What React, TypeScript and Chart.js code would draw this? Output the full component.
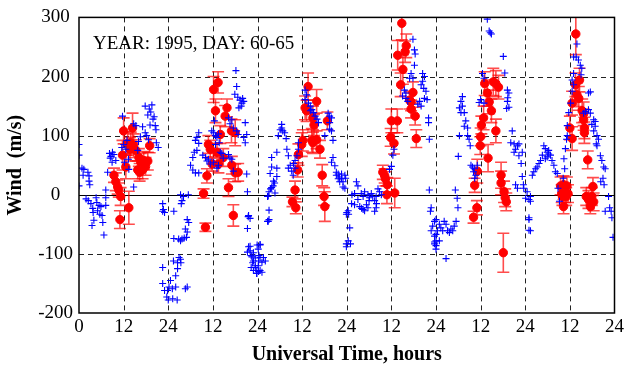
import React, { useEffect, useRef } from 'react';
import { Chart, registerables } from 'chart.js';

Chart.register(...registerables);

// ---- data (hour since start of day 60, wind m/s) ----
const annotationText = 'YEAR: 1995, DAY: 60-65';
const xTickLabels = ['0', '12', '24', '12', '24', '12', '24', '12', '24', '12', '24', '12', '24'];
const xTitle = 'Universal Time, hours';
const yTitle = 'Wind  (m/s)';

const blueDay1: [number, number][] = [
  [0.0, 85], [0.0, 67], [0.0, 15], [0.8, 45], [1.3, 43], [1.1, 33], [2.4, 38], [2.7, 32], [2.7, 23], [2.9, 17],
  [1.9, -7], [3.2, -15], [4.6, -5], [4.8, -13], [5.4, -18], [3.7, -23], [5.9, -20], [7.2, -5], [7.2, -18], [4.0, -43],
  [3.5, -52], [5.6, -33], [6.4, -47], [6.7, -68], [2.5, -10], [3.8, -30], [5.0, -27], [6.2, -35],
  [7.7, 38], [7.2, 8], [8.2, 70], [8.6, 65], [9.0, 72], [9.4, 68], [9.9, 58], [8.4, 62], [8.9, 55],
  [11.7, 133], [12.0, 85], [12.6, 77], [11.5, 80], [12.9, 92], [13.3, 60], [13.4, 43], [12.2, 55],
  [14.7, 120], [15.3, 117], [17.1, 115], [17.8, 105], [18.2, 100], [18.7, 93], [16.5, 98],
  [17.8, 150], [18.9, 145], [19.3, 140], [19.6, 152], [18.5, 135], [19.9, 128], [19.1, 118], [20.2, 132],
  [20.5, 117], [20.7, 110], [20.8, 88], [21.3, 80], [14.7, 13], [22.5, -15], [22.5, -28], [16.0, 90], [15.8, 75],
];

const blueDay2: [number, number][] = [
  [22.5, -123], [22.5, -150], [23.0, -162], [23.6, -173], [23.8, -162], [24.2, -156], [24.6, -145], [25.1, -159],
  [26.0, -156], [29.1, -156], [28.6, -159], [26.4, -178], [24.0, -178], [25.2, -176],
  [26.9, -106], [27.3, -109], [26.5, -115], [26.5, -125], [26.0, -137], [25.4, -112], [27.4, -115],
  [29.1, -42], [29.5, -47], [28.6, -58], [29.1, -63], [28.9, -72], [28.3, -73], [27.7, -75], [27.3, -78], [26.8, -75], [25.5, -74],
  [27.3, 0], [28.1, -3], [29.4, 0], [27.7, -10], [27.5, -15], [25.5, -28], [22.7, -25], [23.0, -30],
  [32.2, 105], [31.7, 97], [31.3, 92], [32.2, 87], [31.7, 75], [31.0, 72], [33.3, 67], [30.6, 63], [30.0, 50], [30.6, 42], [31.3, 37], [32.2, 37],
  [34.0, 63], [34.4, 57], [34.8, 60], [35.3, 52], [36.2, 55], [37.1, 45], [37.5, 50], [38.0, 72], [38.4, 70], [38.8, 62],
  [40.2, 68], [40.6, 62], [41.1, 60], [41.5, 40],
  [36.4, 125], [35.7, 108], [36.2, 105], [36.7, 100], [37.1, 97], [37.5, 103], [37.7, 88], [36.7, 85],
  [40.2, 130], [41.1, 127], [41.5, 113], [40.6, 120], [42.4, 108], [42.8, 102],
  [42.2, 210], [42.4, 183], [41.9, 170], [42.7, 165], [43.3, 160], [43.8, 155], [44.3, 158], [43.6, 150], [43.0, 147], [44.0, 163],
  [44.7, 122], [45.1, 102], [44.7, 88], [44.3, 97], [45.1, 35], [45.5, -37], [46.0, -40],
  [46.0, -87], [46.9, -98], [47.4, -107], [46.7, -115], [47.4, -123], [47.8, -128], [48.3, -130], [47.8, -133], [48.7, -85],
  [45.3, 5], [45.6, -35], [45.3, -57], [45.6, -88], [46.0, -95], [45.3, -97], [46.3, -103], [46.5, -105], [46.9, -112],
  [46.3, -123], [46.9, -128], [47.4, -120], [48.3, -112], [47.9, -85], [48.4, -103],
];

const blueDay3: [number, number][] = [
  [50.7, -3], [51.1, 5], [51.5, 10], [52.2, 15], [52.6, 20], [51.1, -42], [50.7, -45],
  [54.5, 119], [54.1, 110], [54.8, 108], [55.3, 105], [53.6, 100], [55.7, 95], [54.5, 113],
  [55.9, 77], [56.3, 66], [56.8, 50], [56.3, 45], [57.2, 40], [57.6, 33],
  [53.2, 72], [51.8, 63], [51.8, 47], [51.4, 36], [53.2, 45], [53.2, 31], [52.3, 23], [51.8, 12], [52.7, 3], [50.9, -2],
  [51.1, -26], [50.9, -45],
  [48.7, -84], [48.2, -92], [48.7, -106], [49.6, -106], [50.1, -112], [49.2, -114], [48.2, -120], [48.7, -128], [49.2, -131], [47.8, -133],
  [59.0, 88], [59.0, 77], [58.6, 66], [58.1, 58], [57.7, 53], [58.1, 45],
  [60.8, 177], [61.2, 169], [60.8, 161], [61.7, 155], [62.2, 150], [62.6, 144], [63.1, 139], [62.2, 142],
  [63.5, 133], [64.0, 128], [64.4, 122],
  [67.0, 138], [67.4, 133], [67.9, 130], [67.4, 122], [67.9, 108], [68.3, 92], [67.4, 111], [66.1, 100],
  [68.8, 49], [69.2, 38], [69.7, 35], [70.1, 30], [70.6, 27], [71.0, 22], [71.0, 13], [71.5, 11], [69.7, 27], [69.2, 33],
  [70.1, 22], [70.6, 35], [67.9, 55], [68.3, 63], [71.9, -33], [71.9, -83],
];

const blueDay4: [number, number][] = [
  [71.5, 33], [71.7, 28], [74.6, 22], [75.0, 15], [74.1, 2], [75.9, 2], [76.4, -3], [76.8, 5], [77.7, 0], [78.1, -5],
  [78.6, 2], [79.0, -3], [79.5, -10], [79.9, -3], [80.4, 10], [80.8, 5], [81.3, 0], [73.3, -15], [74.1, -17], [75.5, -20],
  [76.4, -25], [77.3, -17], [77.7, -22], [79.9, -22], [79.5, -28], [76.8, -27], [72.4, -27], [72.0, -30], [72.8, -56],
  [72.4, -78], [73.0, -83], [71.9, -88], [73.4, 0], [76.0, -23], [72.5, -33], [78.0, -10], [75.0, -8], [80.0, -15],
  [89.8, 263], [90.2, 245], [90.4, 238], [90.2, 219], [89.3, 205], [88.9, 197], [89.8, 197], [87.5, 177], [87.9, 172],
  [87.0, 167], [87.9, 163], [88.4, 158],
  [92.4, 205], [92.9, 200], [92.4, 192], [92.0, 186], [92.7, 180], [93.3, 175], [92.9, 163], [93.6, 161], [91.6, 158],
  [91.1, 153], [92.0, 150], [94.0, 130], [94.0, 122], [94.2, 94],
  [84.7, 77], [84.4, 67], [84.0, 48], [83.5, 43],
  [94.2, 8], [94.7, -22], [94.5, -28], [95.1, -53], [94.7, -61], [95.6, -70], [96.0, -78], [95.6, -80], [96.0, -86],
];

const blueDay5: [number, number][] = [
  [109.8, 297], [110.3, 277], [110.9, 272], [110.6, 274], [114.1, 234], [114.5, 206], [108.5, 205], [108.9, 197],
  [115.2, 177], [115.6, 172], [115.3, 164], [115.2, 158], [115.6, 148], [115.0, 146], [116.5, 108],
  [108.0, 161], [107.6, 156], [108.9, 155],
  [103.1, 166], [102.7, 158], [103.1, 150], [102.3, 147], [103.6, 139], [102.7, 139], [104.0, 125], [104.5, 113], [103.6, 116],
  [102.3, 100], [104.5, 100], [104.9, 94], [105.2, 83], [102.0, 65],
  [105.4, 50], [105.8, 47], [106.3, 44], [106.1, 39], [106.7, 33], [107.1, 50], [106.4, 28],
  [116.1, 88], [117.0, 86], [117.9, 83], [117.4, 77], [118.3, 86], [117.0, 72], [118.3, 66], [119.2, 72], [118.9, 53],
  [119.2, 31], [119.5, 17], [117.4, 17], [117.9, 11],
  [95.6, -45], [96.0, -42], [96.9, -50], [97.3, -56], [96.4, -61], [96.0, -67], [98.2, -45], [98.7, -50], [97.8, -61],
  [99.1, -61], [99.6, -64], [100.0, -58], [100.5, -61], [100.9, -53], [101.4, -45], [95.6, -83], [96.0, -92], [98.7, -108], [96.9, -78],
  [101.2, 8], [101.7, -6], [101.9, -22], [121.0, -39], [121.4, -61],
];

const blueDay6: [number, number][] = [
  [133.9, 255], [133.0, 233], [133.7, 233], [134.3, 228], [134.8, 219], [135.2, 214], [135.0, 203],
  [133.0, 205], [132.6, 194], [133.0, 186], [132.6, 175], [132.2, 155], [131.7, 139], [131.3, 117], [131.3, 100],
  [137.5, 174], [137.0, 172],
  [135.7, 138], [136.2, 141], [137.0, 144], [137.5, 138], [138.4, 127], [138.8, 124], [137.9, 119], [138.8, 116],
  [139.3, 100], [139.7, 94], [139.1, 86], [139.3, 83], [138.4, 108],
  [140.2, 66], [140.6, 58], [141.1, 47], [141.5, 44], [140.9, 28], [141.2, 17], [140.3, 22],
  [142.4, -3], [142.7, -22], [143.1, -28], [143.3, -39], [141.5, -28], [143.6, -72],
  [125.0, 83], [125.4, 78], [125.9, 72], [126.3, 69], [126.8, 67], [125.9, 64], [124.6, 67], [124.1, 58], [123.7, 53],
  [123.2, 47], [122.8, 44], [122.3, 39], [121.9, 33], [127.2, 58], [127.7, 50], [128.1, 39], [128.6, 36], [125.4, 61], [126.3, 75],
  [119.6, 11], [120.5, 5], [121.4, -3], [120.1, -6], [121.0, -8], [121.4, -11], [121.0, -42], [121.0, -60],
  [130.4, 61], [130.8, 78], [130.6, 44], [130.2, 28], [131.1, 94], [129.2, -11], [128.8, 11],
];

// red: [hour, wind, error]
const redDay1: [number, number, number][] = [
  [12.0, 108, 22], [14.4, 113, 25], [13.1, 87, 20], [13.7, 77, 20], [13.9, 88, 18], [11.7, 67, 25], [14.7, 83, 20],
  [15.3, 75, 18], [16.1, 63, 15], [16.6, 55, 15], [17.4, 58, 15], [18.5, 57, 15], [17.9, 48, 15], [17.1, 42, 15],
  [16.3, 38, 15], [15.8, 42, 15], [19.0, 83, 12], [12.6, 47, 20], [9.4, 33, 12], [9.9, 22, 15], [10.4, 13, 12],
  [10.7, 8, 12], [11.2, -3, 15], [13.4, -22, 28], [11.0, -42, 15],
];
const redDay2: [number, number, number][] = [
  [37.4, 190, 18], [36.2, 178, 22], [36.7, 142, 20], [39.3, 133, 18], [39.8, 147, 15], [38.0, 102, 15], [41.0, 108, 20],
  [42.0, 105, 22], [34.8, 85, 15], [35.3, 77, 15], [37.1, 72, 15], [38.8, 63, 15], [35.8, 52, 12], [37.5, 52, 15],
  [41.1, 50, 15], [42.0, 37, 15], [42.8, 38, 15], [34.4, 32, 12], [40.2, 12, 15], [33.5, 2, 8], [41.5, -35, 18], [34.0, -55, 7],
];
const redDay3: [number, number, number][] = [
  [61.6, 183, 23], [60.8, 147, 20], [61.2, 142, 18], [63.9, 158, 20], [62.9, 130, 20], [63.2, 118, 18], [66.8, 125, 15],
  [60.2, 92, 18], [59.9, 85, 20], [62.6, 92, 20], [62.9, 88, 18], [63.9, 93, 15], [64.8, 77, 15], [59.0, 68, 18],
  [58.8, 42, 12], [65.4, 33, 18], [58.1, 8, 15], [57.4, -12, 8], [58.3, -22, 10], [65.9, -3, 15], [66.1, -20, 25],
];
const redDay4: [number, number, number][] = [
  [86.8, 290, 28], [88.0, 252, 20], [87.7, 242, 18], [85.7, 236, 25], [87.1, 212, 25], [86.5, 186, 20], [89.8, 173, 18],
  [88.9, 160, 15], [89.3, 157, 15], [89.3, 145, 15], [90.4, 133, 15], [84.0, 125, 20], [85.6, 125, 20], [83.8, 97, 15],
  [84.7, 87, 18], [90.7, 95, 15], [81.7, 38, 12], [82.2, 32, 12], [82.4, 27, 12], [82.9, 17, 12], [82.8, 0, 15], [84.9, 3, 25],
];
const redDay5: [number, number, number][] = [
  [109.1, 188, 20], [111.4, 191, 23], [112.1, 188, 22], [112.8, 182, 20], [109.8, 172, 22], [110.3, 157, 20],
  [110.9, 142, 20], [108.8, 130, 20], [108.2, 118, 15], [112.1, 108, 20], [108.0, 98, 15], [107.9, 83, 15],
  [110.0, 62, 23], [107.1, 40, 20], [106.4, 16, 12], [113.5, 33, 22], [113.5, 20, 20], [114.3, 5, 18], [114.6, -5, 15],
  [114.9, -12, 15], [107.0, -22, 12], [106.1, -38, 10], [114.1, -98, 33],
];
const redDay6: [number, number, number][] = [
  [133.6, 272, 35], [134.6, 194, 20], [133.5, 186, 20], [133.9, 169, 20], [134.4, 163, 20], [132.6, 155, 20],
  [135.3, 142, 20], [135.7, 137, 20], [135.7, 127, 18], [132.0, 113, 20], [135.9, 113, 18], [135.9, 105, 18],
  [132.6, 95, 20], [136.8, 59, 15], [138.2, 14, 15], [129.5, 15, 15], [130.3, 17, 15], [131.2, 15, 15], [129.8, 2, 15],
  [130.7, 2, 15], [131.5, 2, 15], [130.0, -3, 15], [131.0, -3, 15], [130.3, -20, 12], [136.4, -3, 15], [137.0, -8, 15],
  [137.9, -3, 15], [138.4, -12, 15], [137.5, -20, 12],
];

const blueAll = [...blueDay1, ...blueDay2, ...blueDay3, ...blueDay4, ...blueDay5, ...blueDay6];
const redAll = [...redDay1, ...redDay2, ...redDay3, ...redDay4, ...redDay5, ...redDay6];

const SERIF = '"Liberation Serif", "Times New Roman", serif';

export default function App() {
  const ref = useRef<HTMLCanvasElement | null>(null);

  useEffect(() => {
    document.body.style.margin = '0';
    const canvas = ref.current;
    if (!canvas) return;

    const framePlugin = {
      id: 'frame',
      beforeDatasetsDraw(chart: any) {
        const { ctx, chartArea: a, scales } = chart;
        const xs = scales.x;
        const ys = scales.y;
        ctx.save();
        ctx.strokeStyle = '#222';
        ctx.lineWidth = 1;
        ctx.setLineDash([5, 4]);
        xs.ticks.forEach((t: any) => {
          if (t.value <= xs.min || t.value >= xs.max) return;
          const x = Math.round(xs.getPixelForValue(t.value)) + 0.5;
          ctx.beginPath();
          ctx.moveTo(x, a.top);
          ctx.lineTo(x, a.bottom);
          ctx.stroke();
        });
        ys.ticks.forEach((t: any) => {
          if (t.value <= ys.min || t.value >= ys.max || t.value === 0) return;
          const y = Math.round(ys.getPixelForValue(t.value)) + 0.5;
          ctx.beginPath();
          ctx.moveTo(a.left, y);
          ctx.lineTo(a.right, y);
          ctx.stroke();
        });
        ctx.setLineDash([]);
        ctx.strokeStyle = '#000';
        const y0 = Math.round(ys.getPixelForValue(0)) + 0.5;
        ctx.beginPath();
        ctx.moveTo(a.left, y0);
        ctx.lineTo(a.right, y0);
        ctx.stroke();
        ctx.restore();
      },
      beforeDatasetDraw(chart: any, args: any) {
        if (args.index !== 1) return;
        const { ctx, chartArea: a, scales } = chart;
        const xs = scales.x;
        const ys = scales.y;
        ctx.save();
        ctx.beginPath();
        ctx.rect(a.left, a.top, a.right - a.left, a.bottom - a.top);
        ctx.clip();
        ctx.strokeStyle = 'rgba(255,0,0,0.7)';
        ctx.lineWidth = 1.6;
        redAll.forEach(([h, v, e]) => {
          const x = xs.getPixelForValue(h);
          const yt = ys.getPixelForValue(v + e);
          const yb = ys.getPixelForValue(v - e);
          ctx.beginPath();
          ctx.moveTo(x, yt);
          ctx.lineTo(x, yb);
          ctx.moveTo(x - 6, yt);
          ctx.lineTo(x + 6, yt);
          ctx.moveTo(x - 6, yb);
          ctx.lineTo(x + 6, yb);
          ctx.stroke();
        });
        ctx.restore();
      },
      afterDraw(chart: any) {
        const { ctx, chartArea: a } = chart;
        ctx.save();
        ctx.strokeStyle = '#000';
        ctx.lineWidth = 1.5;
        ctx.strokeRect(a.left, a.top, a.right - a.left, a.bottom - a.top);
        ctx.fillStyle = '#000';
        ctx.font = `19px ${SERIF}`;
        ctx.textBaseline = 'alphabetic';
        ctx.textAlign = 'left';
        ctx.fillText(annotationText, a.left + 14, a.top + 32);
        ctx.restore();
      },
    };

    const chart = new Chart(canvas, {
      type: 'scatter',
      data: {
        datasets: [
          {
            label: 'blue',
            data: blueAll.map(([x, y]) => ({ x, y })),
            pointStyle: 'cross',
            pointRadius: 3.5,
            pointBorderColor: '#0000ff',
            borderColor: '#0000ff',
            pointBorderWidth: 1.1,
            backgroundColor: '#0000ff',
          },
          {
            label: 'red',
            data: redAll.map(([x, y]) => ({ x, y })),
            pointStyle: 'circle',
            pointRadius: 4.2,
            pointBackgroundColor: '#ff0000',
            pointBorderColor: '#ff0000',
            pointBorderWidth: 1,
          },
        ],
      } as any,
      options: {
        responsive: false,
        animation: false,
        devicePixelRatio: 1,
        layout: { padding: { top: 13, right: 11, bottom: 0, left: 0 } },
        plugins: {
          legend: { display: false },
          tooltip: { enabled: false },
        },
        scales: {
          x: {
            type: 'linear',
            min: 0,
            max: 144,
            grid: { display: false, drawTicks: false },
            border: { display: false },
            ticks: {
              stepSize: 12,
              autoSkip: false,
              maxRotation: 0,
              padding: 3,
              color: '#000',
              font: { family: SERIF, size: 19 },
              callback: (_v: any, i: number) => xTickLabels[i],
            },
            title: {
              display: true,
              text: xTitle,
              color: '#000',
              font: { family: SERIF, size: 20, weight: 'bold' },
              padding: { top: 0, bottom: 2 },
            },
            afterFit: (s: any) => {
              s.height = 56;
            },
          },
          y: {
            type: 'linear',
            min: -200,
            max: 300,
            grid: { display: false, drawTicks: false },
            border: { display: false },
            ticks: {
              stepSize: 100,
              padding: 6,
              crossAlign: 'center',
              color: '#000',
              font: { family: SERIF, size: 19 },
              callback: (v: any) => String(v),
            },
            title: {
              display: true,
              text: yTitle,
              color: '#000',
              font: { family: SERIF, size: 20, weight: 'bold' },
              padding: { top: 4, bottom: 0 },
            },
            afterFit: (s: any) => {
              s.width = 79;
            },
          },
        },
      } as any,
      plugins: [framePlugin],
    });

    return () => chart.destroy();
  }, []);

  return (
    <div style={{ width: 627, height: 369, background: '#fff' }}>
      <canvas ref={ref} width={627} height={369} style={{ display: 'block' }} />
    </div>
  );
}
